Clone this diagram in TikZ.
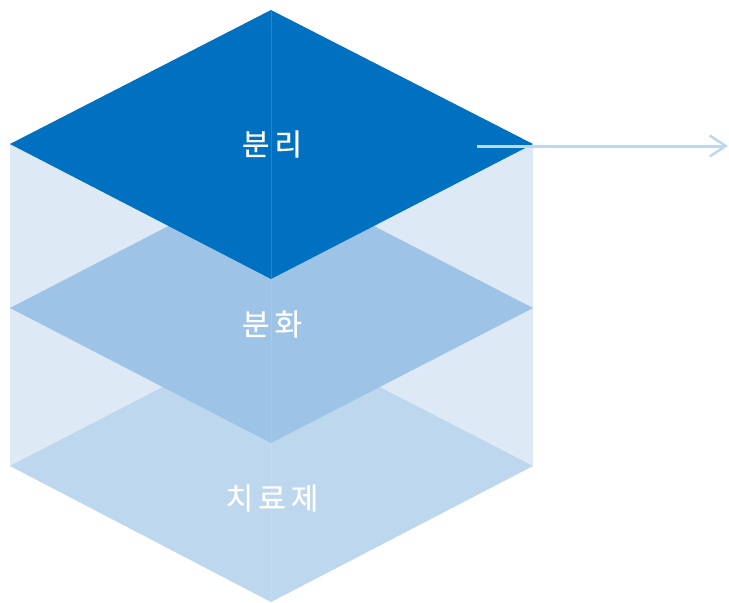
\documentclass[tikz,border=0pt]{standalone}
\usepackage{fontspec}
\newfontfamily\kr[FakeBold=0.3]{Noto Sans CJK KR}
\usetikzlibrary{arrows.meta}
\definecolor{topc}{HTML}{0070C0}
\definecolor{midc}{HTML}{9DC3E6}
\definecolor{botc}{HTML}{BDD7EE}
\definecolor{backc}{HTML}{DDE9F5}
\tikzset{
  lbl/.style={text=white,font=\kr\fontsize{30}{34}\selectfont,inner sep=0pt},
  seam/.style={line width=0.6pt},
  arr/.style={draw=botc,line width=3pt,-{Straight Barb[length=16pt,width=21pt,line width=2.5pt]}}
}
\begin{document}
\begin{tikzpicture}[x=1pt,y=-1pt]
\useasboundingbox (0,0) rectangle (729,603);
% back panel
\fill[backc] (10,144) rectangle (533,466);
% bottom layer
\fill[botc] (10,466) -- (271,331) -- (533,466) -- (271,602) -- cycle;
\draw[seam,draw=botc!90!white] (271,331) -- (271,602);
% middle layer
\fill[midc] (10,308) -- (271,173) -- (533,308) -- (271,443) -- cycle;
\draw[seam,draw=midc!90!white] (271,173) -- (271,443);
% top layer
\fill[topc] (10,144) -- (271,10) -- (533,144) -- (271,279) -- cycle;
\draw[seam,draw=topc!85!white] (271,10) -- (271,279);
% labels
\node[lbl] (t1) at (272,144) {분\hspace{5pt}리};
\node[lbl] (t2) at (272,324) {분\hspace{5pt}화};
\node[lbl] (t3) at (272,498) {치\hspace{5pt}료\hspace{5pt}제};
% arrow
\coordinate (a1) at (477,146);
\coordinate (a2) at (728,146);
\draw[arr] (a1) -- (a2);
\end{tikzpicture}
\end{document}
